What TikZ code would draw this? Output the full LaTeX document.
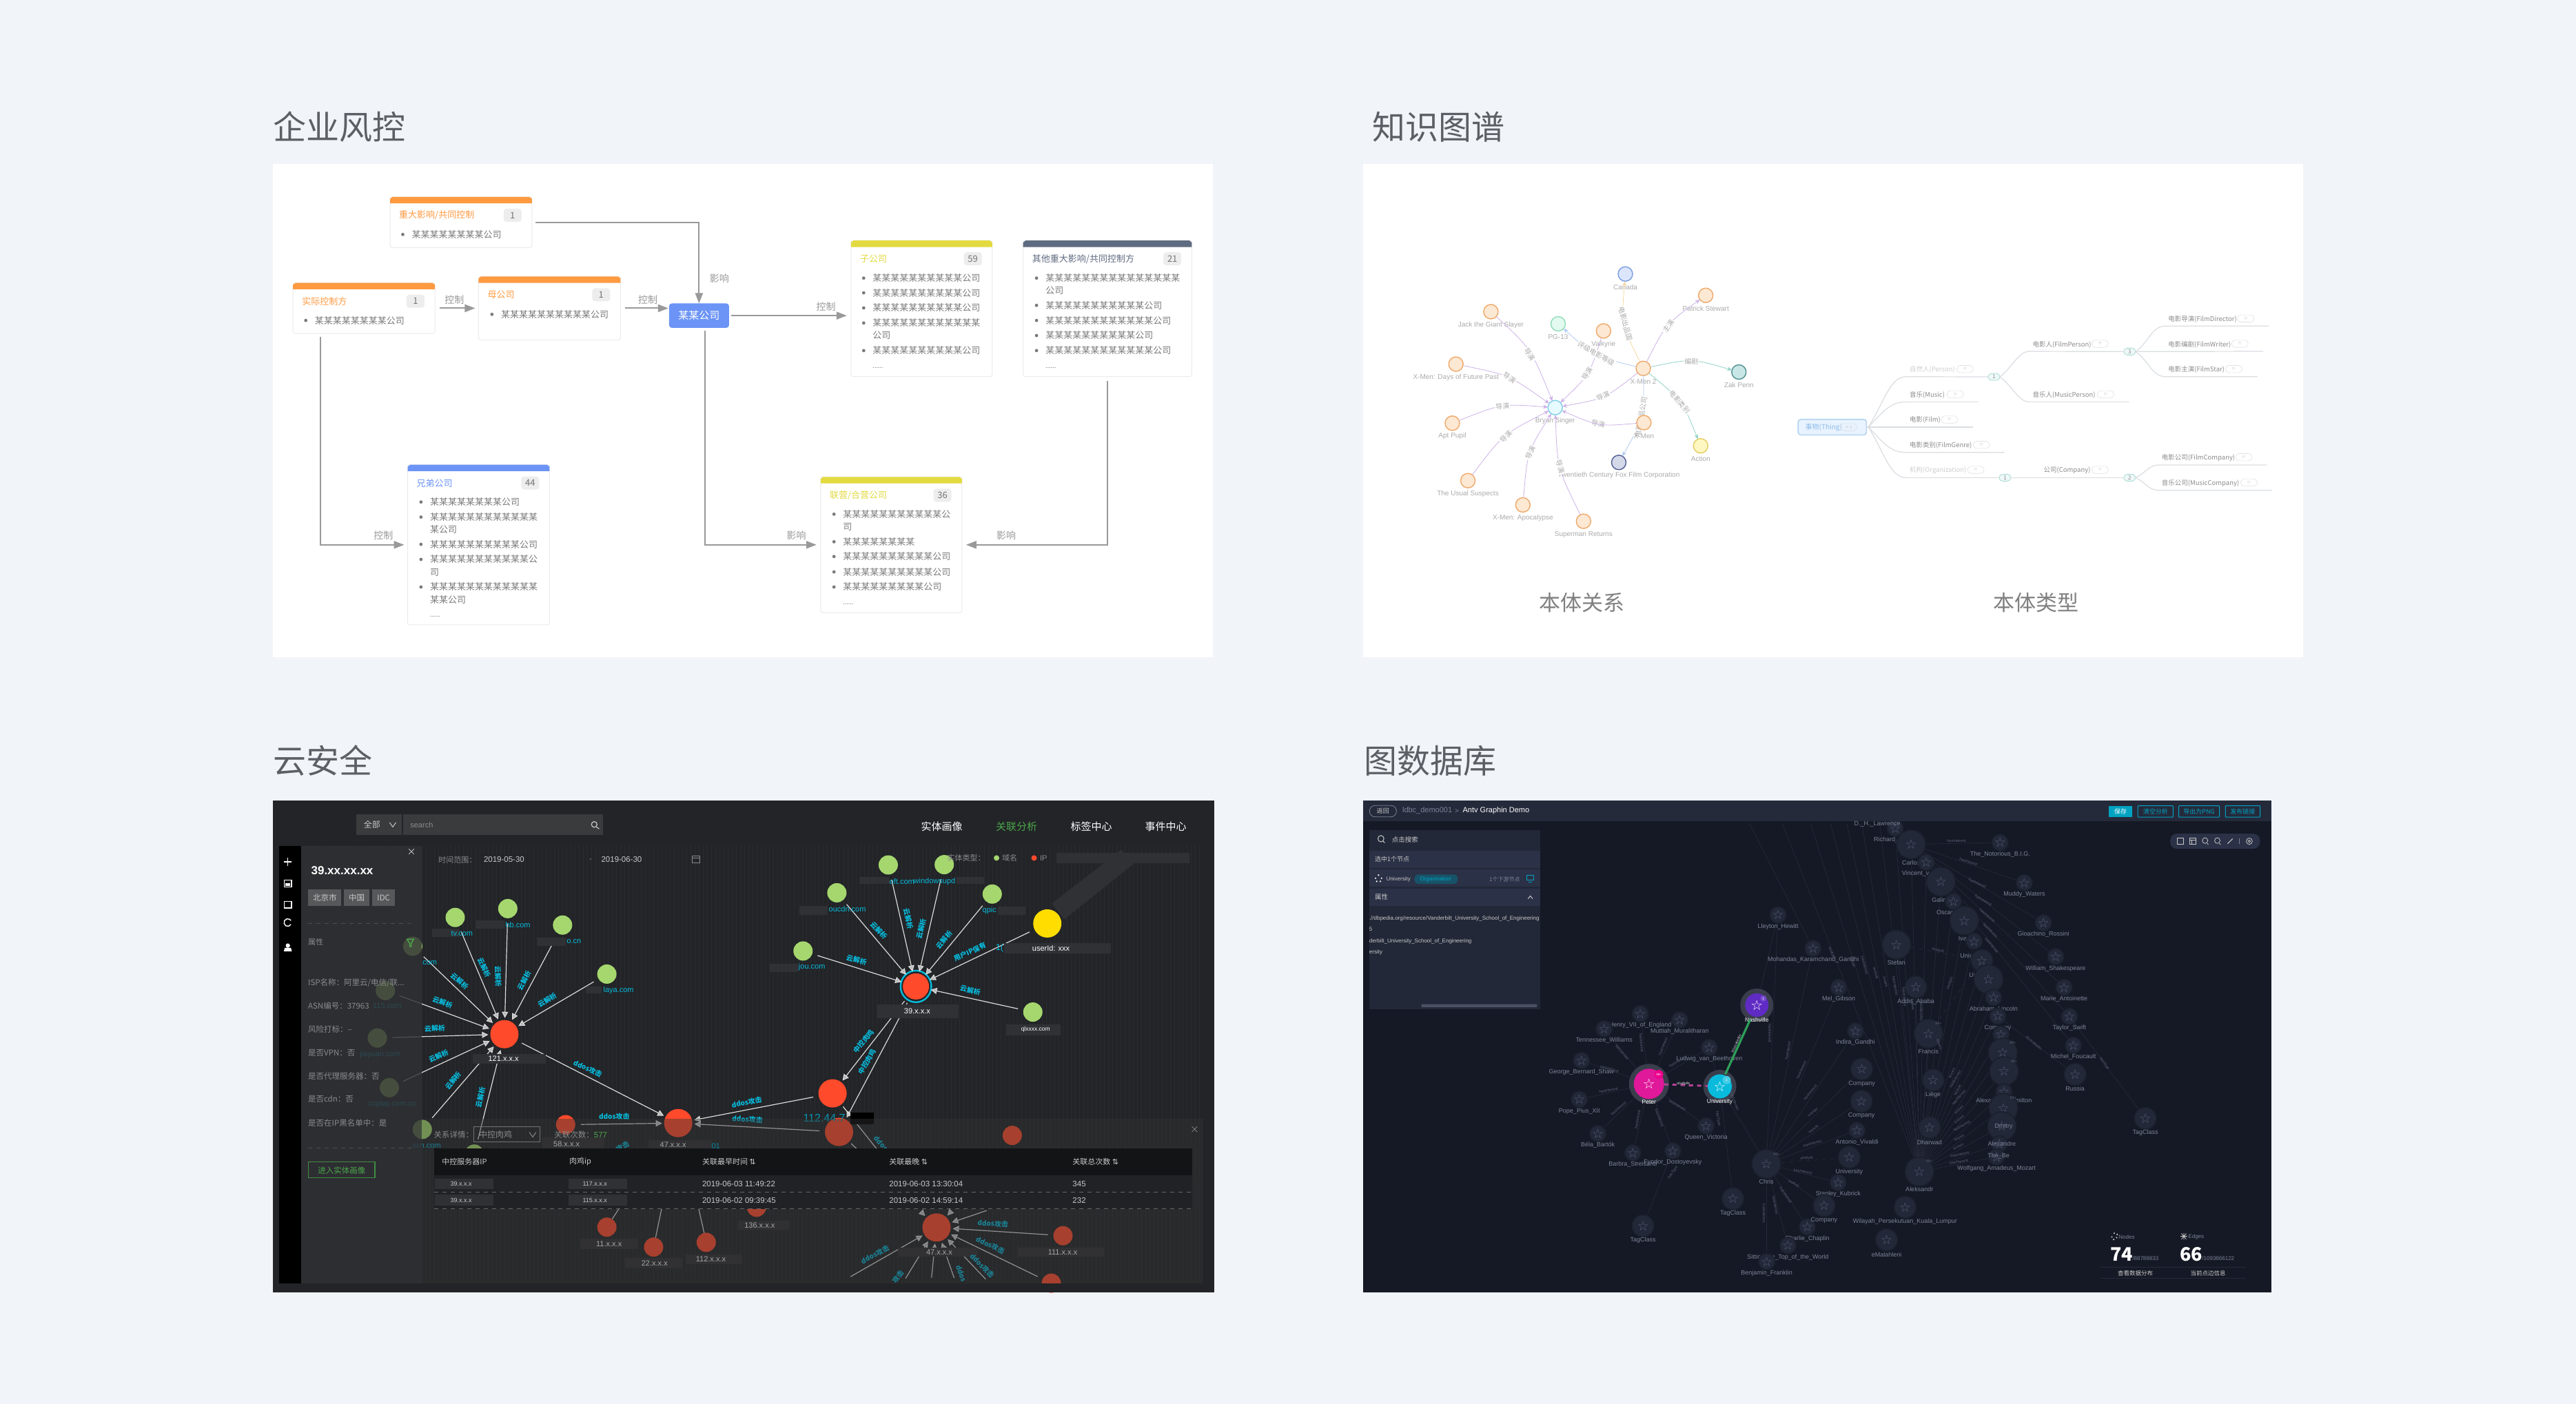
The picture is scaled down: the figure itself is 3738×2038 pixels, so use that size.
\documentclass[tikz,border=0pt]{standalone}
\usepackage{fontspec}
\usetikzlibrary{arrows.meta,fit,calc}
\setmainfont{Noto Sans CJK SC}
\newfontfamily\latf{Liberation Sans}
\newfontfamily\symf{DejaVu Sans}
\pgfdeclarelayer{bglayer}\pgfdeclarelayer{edgelayer}
\pgfsetlayers{bglayer,edgelayer,main}
\newcounter{nn}
\newcommand\pxf[1]{\fontsize{\fpeval{#1*0.5}}{\fpeval{#1*0.6}}\selectfont}
\newcommand\Tt[4][]{\stepcounter{nn}\node[txt,#1] (t\arabic{nn}) at (#2) {\pxf{#3}#4};}
\newcommand\Cd[8]{%
 \node[cardbox,fit={(#2,#3) (#4,#5)}] (#1) {};
 \fill[#6] (#2,{#3+20}) -- (#2,{#3+6}) -- ({#2+4},#3) -- ({#4-4},#3) -- (#4,{#3+6}) -- (#4,{#3+20}) -- cycle;
 \Tt[anchor=west,text=#6]{{#2+15},{#3+57}}{13}{#7}
 \stepcounter{nn}\node[cbadge] (t\arabic{nn}) at ({#4-32},{#3+57}) {\pxf{13}#8};
}
\newcommand\Li[3]{\fill[bodyg] ({#1-15},#2) circle[radius=1.2pt]; \Tt[anchor=west,text=bodyg]{#1,#2}{13}{#3}}
\newcommand\Kn[5]{\node[kn,fill=#3,draw=#4] (#1) at (#2) {}; \Tt[text=kgt,font=\latf]{$(#1)+(0,50)$}{10}{#5}}
\newcommand\Kl[3]{\Tt[rotate=#2,text=kgt,fill=white,inner sep=.5pt]{#1}{10}{#3}}
\newcommand\Tl[4][kgd]{\Tt[anchor=west,text=#1]{#2}{9.5}{#3}\stepcounter{nn}\node[tbadge] (t\arabic{nn}) at (#4) {\pxf{6}≡};}
\newcommand\Tm[3]{\node[tmark] (#1) at (#2) {\pxf{8}#3};}
\newcommand\Dn[4]{\node[dn,fill=#4,minimum size=#3] (#1) at (#2) {};}
\newcommand\Dbx[2]{\fill[lblbox] (#1) rectangle (#2);}
\newcommand\El[3]{\Tt[rotate=#2,text=cyanl,font=\bfseries]{#1}{10}{#3}}
\newcommand\Wl[2]{\Tt[text=white,font=\latf]{#1}{11}{#2}}
\newcommand\Cl[2]{\Tt[text=cyanl,font=\latf]{#1}{11}{#2}}
\newcommand\Gn[6]{\node[gn,minimum size=#4] (#1) at (#2,#3) {\symf\pxf{19}☆};
  \Tt[text=glabel,font=\latf]{{#2},{#3+#5}}{9}{#6}}
\newcommand\Gs[4]{\Gn{#1}{#2}{#3}{12pt}{37}{#4}}
\newcommand\Gm[4]{\Gn{#1}{#2}{#3}{16pt}{46}{#4}}
\newcommand\Gl[4]{\Gn{#1}{#2}{#3}{21pt}{57}{#4}}
\newcommand\Hl[3]{\Tt[rotate=#2,text=gedgel,font=\latf]{#1}{5.5}{#3}}
\definecolor{pagebg}{HTML}{F1F4F8}
\definecolor{titleg}{HTML}{5C6066}
\definecolor{bodyg}{HTML}{7A7A7A}
\definecolor{orangec}{HTML}{FF9A41}
\definecolor{yellowc}{HTML}{E2DA40}
\definecolor{bluec}{HTML}{6C94F6}
\definecolor{slatec}{HTML}{5F6B80}
\definecolor{kgt}{HTML}{ABABAB}
\definecolor{kgd}{HTML}{8C8C8C}
\definecolor{kgl}{HTML}{CFCFCF}
\definecolor{kgo}{HTML}{FDE8D3}
\definecolor{kgod}{HTML}{EFA868}
\definecolor{kcy}{HTML}{E6FBFF}
\definecolor{kcyd}{HTML}{7DCFEA}
\definecolor{kbl}{HTML}{DBE6FD}
\definecolor{kbld}{HTML}{7B9CE0}
\definecolor{kgr}{HTML}{E3FAF0}
\definecolor{kgrd}{HTML}{8FDCB8}
\definecolor{kte}{HTML}{C9E6E6}
\definecolor{kted}{HTML}{4F8F8F}
\definecolor{kye}{HTML}{FFF7C2}
\definecolor{kyed}{HTML}{E6CC5C}
\definecolor{kna}{HTML}{D4D9EA}
\definecolor{knad}{HTML}{4F5C8F}
\definecolor{kpur}{HTML}{CDB2E8}
\definecolor{ktea}{HTML}{90D2C8}
\definecolor{kblu}{HTML}{AECBF2}
\definecolor{kyel}{HTML}{F5D9A3}
\definecolor{treeg}{HTML}{DADDE1}
\definecolor{thingf}{HTML}{E8F3FF}
\definecolor{thingd}{HTML}{B5D3F2}
\definecolor{thingt}{HTML}{8FBCE8}
\definecolor{dbg}{HTML}{222427}
\definecolor{dgrid}{HTML}{292B2F}
\definecolor{dbox}{HTML}{3A3B3D}
\definecolor{lblboxc}{HTML}{303134}
\definecolor{cyanl}{HTML}{08BBDD}
\definecolor{redn}{HTML}{FF4A2B}
\definecolor{greenn}{HTML}{A5D76E}
\definecolor{yelln}{HTML}{FFDD00}
\definecolor{lightt}{HTML}{C8C8C8}
\definecolor{graypt}{HTML}{8A8B8D}
\definecolor{gtxt}{HTML}{4CA64C}
\definecolor{thead}{HTML}{131416}
\definecolor{trow}{HTML}{202225}
\definecolor{gbg}{HTML}{151925}
\definecolor{gbar}{HTML}{252A3B}
\definecolor{gpan}{HTML}{232838}
\definecolor{grw}{HTML}{2B3146}
\definecolor{glabel}{HTML}{7C8397}
\definecolor{gedge}{HTML}{282C3D}
\definecolor{gedgel}{HTML}{5A6076}
\definecolor{gteal}{HTML}{00A3C2}
\definecolor{ghalo}{HTML}{3A3E4C}
\definecolor{gpurple}{HTML}{5F2BC4}
\definecolor{gpink}{HTML}{E0189A}
\definecolor{ggreen}{HTML}{2E9E5A}
\definecolor{gpinkd}{HTML}{B8439A}
\tikzset{
 txt/.style={inner sep=0pt,outer sep=0pt},
 cardbox/.style={inner sep=0pt,outer sep=0pt,draw=black!8,fill=white,rounded corners=1.5pt,line width=.5pt},
 cbadge/.style={inner sep=0pt,outer sep=0pt,fill=black!7,rounded corners=2pt,text=black!55,minimum width=13pt,minimum height=9.5pt},
 arr/.style={draw=black!40,line width=1pt,-{Triangle[length=7.5pt,width=5.5pt]}},
 kn/.style={circle,inner sep=0pt,outer sep=0pt,minimum size=10.5pt,line width=.7pt},
 ke/.style={line width=.4pt,-{Stealth[length=3.5pt,width=3pt]}},
 tline/.style={draw=treeg,line width=.6pt},
 tbadge/.style={inner sep=0pt,outer sep=0pt,draw=black!12,text=black!20,rounded corners=2.5pt,minimum width=12pt,minimum height=5.2pt,line width=.3pt},
 tmark/.style={inner sep=0pt,outer sep=0pt,draw=ktea!80,fill=ktea!15,text=kgd,rounded corners=2.5pt,minimum width=8.5pt,minimum height=5pt,line width=.4pt},
 dn/.style={circle,inner sep=0pt,outer sep=0pt},
 lblbox/.style={fill=lblboxc},
 de/.style={draw=black!14,line width=.6pt,shorten <=4pt,shorten >=1.5pt,-{Triangle[length=4.5pt,width=4.5pt,fill=black!28]}},
 dp/.style={draw=black!14,line width=.6pt},
 gn/.style={circle,inner sep=0pt,outer sep=0pt,fill=gpan,draw=black!22!gpan,line width=.8pt,text=glabel!130},
 ge/.style={draw=gedge,line width=.3pt},
 halo/.style={circle,fill=ghalo,inner sep=0pt,outer sep=0pt},
 gbtn/.style={draw=gteal,line width=.5pt,rounded corners=.5pt},
 z1/.style={shift={(390,230)},x=.44pt,y=-.2328pt},
 z2/.style={shift={(1980,330)},x=.2168pt,y=-.1913pt},
 z3/.style={shift={(2580,400)},x=.236pt,y=-.1667pt},
 z4/.style={shift={(390,1160)},x=.2232pt,y=-.2296pt},
 z5/.style={shift={(1080,1160)},x=.2232pt,y=-.2296pt},
 z6/.style={shift={(1970,1160)},x=.2168pt,y=-.2296pt},
 z7/.style={shift={(2630,1160)},x=.2168pt,y=-.2296pt},
}
\begin{document}
\begin{tikzpicture}[x=.5pt,y=-.5pt]
\path[use as bounding box] (0,0) rectangle (3738,2038);
\begin{pgfonlayer}{bglayer}
\fill[pagebg] (0,0) rectangle (3738,2038);
\fill[gbg] (1978,1162) rectangle (3296,1876);
\end{pgfonlayer}
\Tt[anchor=west,text=titleg]{396,184}{48}{企业风控}
\Tt[anchor=west,text=titleg]{1991,184}{48}{知识图谱}
\Tt[anchor=west,text=titleg]{396,1104}{48}{云安全}
\Tt[anchor=west,text=titleg]{1979,1104}{48}{图数据库}
\fill[white] (396,238) rectangle (1760,954);
\fill[white] (1978,238) rectangle (3342,954);
% ===== panel 1
\begin{scope}[z1]
\Cd{cA}{200}{120}{434}{278}{orangec}{重大影响/共同控制}{1}
\Li{236}{237}{某某某某某某某某公司}
\Cd{cB}{40}{388}{274}{546}{orangec}{实际控制方}{1}
\Li{76}{505}{某某某某某某某某公司}
\Cd{cC}{346}{368}{580}{566}{orangec}{母公司}{1}
\Li{383}{486}{某某某某某某某某某某公司}
\Cd{cD}{960}{256}{1193}{680}{yellowc}{子公司}{59}
\Li{996}{373}{某某某某某某某某某某公司}
\Li{996}{419}{某某某某某某某某某某公司}
\Li{996}{466}{某某某某某某某某某某公司}
\Li{996}{513}{某某某某某某某某某某某某}
\Tt[anchor=west,text=bodyg]{996,552}{13}{公司}
\Li{996}{599}{某某某某某某某某某某公司}
\Tt[anchor=west,text=bodyg]{996,652}{9}{......}
\Cd{cE}{1244}{256}{1522}{680}{slatec}{其他重大影响/共同控制方}{21}
\Li{1281}{373}{某某某某某某某某某某某某某某某}
\Tt[anchor=west,text=bodyg]{1281,411}{13}{公司}
\Li{1281}{458}{某某某某某某某某某某某公司}
\Li{1281}{505}{某某某某某某某某某某某某公司}
\Li{1281}{552}{某某某某某某某某某某公司}
\Li{1281}{599}{某某某某某某某某某某某某公司}
\Tt[anchor=west,text=bodyg]{1281,652}{9}{......}
\Cd{cG}{229}{955}{463}{1454}{bluec}{兄弟公司}{44}
\Li{266}{1071}{某某某某某某某某公司}
\Li{266}{1118}{某某某某某某某某某某某某}
\Tt[anchor=west,text=bodyg]{266,1157}{13}{某公司}
\Li{266}{1203}{某某某某某某某某某某公司}
\Li{266}{1250}{某某某某某某某某某某某公}
\Tt[anchor=west,text=bodyg]{266,1290}{13}{司}
\Li{266}{1336}{某某某某某某某某某某某某}
\Tt[anchor=west,text=bodyg]{266,1375}{13}{某某公司}
\Tt[anchor=west,text=bodyg]{266,1428}{9}{......}
\Cd{cH}{910}{993}{1143}{1416}{yellowc}{联营/合营公司}{36}
\Li{947}{1109}{某某某某某某某某某某某公}
\Tt[anchor=west,text=bodyg]{947,1148}{13}{司}
\Li{947}{1195}{某某某某某某某某}
\Li{947}{1241}{某某某某某某某某某某公司}
\Li{947}{1289}{某某某某某某某某某某公司}
\Li{947}{1336}{某某某某某某某某某公司}
\Tt[anchor=west,text=bodyg]{947,1390}{9}{......}
\node[fill=bluec,inner sep=0pt,outer sep=0pt,rounded corners=2pt,fit={(660,452) (759,528)}] (cF) {};
\Tt[text=white]{cF.center}{15}{某某公司}
\draw[arr,shorten <=2.5pt] (cA.east) -| (cF.north);
\draw[arr,shorten <=3.5pt,shorten >=2.5pt] (cB.east) -- (cC.west);
\draw[arr,shorten <=3.5pt,shorten >=.5pt] (cC.east) -- (cC.east -| cF.west);
\draw[arr,shorten <=1.5pt,shorten >=3pt] (cF.east) -- (cF.east -| cD.west);
\draw[arr,shorten <=2pt,shorten >=3pt] ([xshift=4.2pt]cF.south) |- (cH.west);
\draw[arr,shorten <=3pt,shorten >=3pt] (cE.south) |- (cH.east);
\draw[arr,shorten <=2.3pt,shorten >=2.5pt] ([xshift=-31.7pt]cB.south) |- (cG.west);
\foreach \xa/\ya/\s in {306/440/控制,625/440/控制,743/374/影响,919/462/控制,189/1176/控制,870/1176/影响,1216/1176/影响}{\Tt[text=black!40]{\xa,\ya}{14}{\s}}
\end{scope}
% ===== panel 2
\begin{scope}[z2]
\Kn{can}{873,177}{kbl}{kbld}{Canada}
\Kn{pat}{1142,258}{kgo}{kgod}{Patrick Stewart}
\Kn{pg}{648,366}{kgr}{kgrd}{PG-13}
\Kn{val}{800,393}{kgo}{kgod}{Valkyrie}
\Kn{jack}{423,320}{kgo}{kgod}{Jack the Giant Slayer}
\Kn{xm2}{933,535}{kgo}{kgod}{X-Men 2}
\Kn{zak}{1253,549}{kte}{kted}{Zak Penn}
\Kn{dofp}{306,519}{kgo}{kgod}{X-Men: Days of Future Past}
\Kn{bry}{638,684}{kcy}{kcyd}{Bryan Singer}
\Kn{apt}{294,743}{kgo}{kgod}{Apt Pupil}
\Kn{act}{1125,829}{kye}{kyed}{Action}
\Kn{fox}{851,892}{kna}{knad}{Twentieth Century Fox Film Corporation}
\Kn{usu}{346,961}{kgo}{kgod}{The Usual Suspects}
\Kn{apo}{530,1053}{kgo}{kgod}{X-Men: Apocalypse}
\Kn{sup}{733,1115}{kgo}{kgod}{Superman Returns}
\draw[ke,draw=kpur] (jack) .. controls (557,460) .. (bry);
\draw[ke,draw=kpur] (dofp) .. controls (483,560) .. (bry);
\draw[ke,draw=kpur] (apt) .. controls (458,669) .. (bry);
\draw[ke,draw=kpur] (usu) .. controls (463,785) .. (bry);
\draw[ke,draw=kpur] (apo) .. controls (545,851) .. (bry);
\draw[ke,draw=kpur] (sup) .. controls (645,913) .. (bry);
\draw[ke,draw=kpur] (val) .. controls (753,560) .. (bry);
\draw[ke,draw=kpur] (xm2) .. controls (805,650) .. (bry);
\draw[ke,draw=kyel] (xm2) .. controls (859,368) .. (can);
\draw[ke,draw=kpur] (xm2) .. controls (1008,368) .. (pat);
\draw[ke,draw=kblu] (xm2) .. controls (770,490) .. (pg);
\draw[ke,draw=ktea] (xm2) .. controls (1096,497) .. (zak);
\draw[ke,draw=ktea] (xm2) .. controls (1064,659) .. (act);
\draw[ke,draw=kblu] (xm2) .. controls (936,722) .. (fox);
\Kl{553,483}{-56}{导演}
\Kl{485,570}{-35}{导演}
\Kl{462,680}{5}{导演}
\Kl{473,795}{45}{导演}
\Kl{555,855}{65}{导演}
\Kl{655,908}{-75}{导演}
\Kl{745,555}{60}{导演}
\Kl{798,640}{25}{导演}
\Kl{782,745}{-15}{导演}
\Kl{873,365}{-75}{电影出品国}
\Kl{1017,375}{55}{主演}
\Kl{775,480}{-30}{评级电影等级}
\Kl{1094,508}{0}{编剧}
\Kl{1055,662}{-50}{电影类别}
\Kl{925,720}{80}{电影出品公司}
\Kn{xm}{935,741}{kgo}{kgod}{X-Men}
\draw[ke,draw=kpur] (xm) .. controls (784,756) .. (bry);
\Tt[text=black!50]{728,1425}{31}{本体关系}
\end{scope}
\Tt[text=black!50]{2954,875}{31}{本体类型}
% ===== panel 2 right: tree
\begin{scope}[z3]
\node[draw=thingd,fill=thingf,line width=.8pt,rounded corners=2pt,inner sep=0pt,outer sep=0pt,fit={(62,626) (272,694)}] (thing) {};
\Tt[anchor=west,text=thingt]{84,662}{10}{事物(Thing)}
\stepcounter{nn}\node[tbadge] (t\arabic{nn}) at (217,660) {\pxf{6}≡ 3};
\coordinate (rt) at (278,660);
\draw[tline] (thing.east) -- (rt);
\Tm{m1}{664,441}{1}
\Tm{m2}{698,880}{1}
\Tm{m3}{1081,331}{3}
\Tm{m4}{1081,880}{2}
\draw[tline] (rt) .. controls (330,540) and (345,440) .. (395,440) -- (m1.west);
\draw[tline] (rt) .. controls (325,590) and (345,550) .. (395,550) -- (617,550);
\draw[tline] (rt) -- (600,660);
\draw[tline] (rt) .. controls (325,730) and (345,770) .. (395,770) -- (696,770);
\draw[tline] (rt) .. controls (330,780) and (345,880) .. (395,880) -- (m2.west);
\draw[tline] (m1.east) .. controls (720,400) and (740,330) .. (772,330) -- (m3.west);
\draw[tline] (m1.east) .. controls (720,480) and (740,550) .. (772,550) -- (1079,550);
\draw[tline] (m3.east) .. controls (1140,290) and (1150,220) .. (1190,220) -- (1510,220);
\draw[tline] (m3.east) -- (1492,330);
\draw[tline] (m3.east) .. controls (1140,370) and (1150,440) .. (1190,440) -- (1474,440);
\draw[tline] (m2.east) -- (m4.west);
\draw[tline] (m4.east) .. controls (1130,860) and (1140,825) .. (1170,825) -- (1503,825);
\draw[tline] (m4.east) .. controls (1130,900) and (1140,935) .. (1170,935) -- (1519,935);
\Tl[kgl]{405,410}{自然人(Person)}{575,407}
\Tl{405,519}{音乐(Music)}{545,517}
\Tl{405,628}{电影(Film)}{527,627}
\Tl{405,739}{电影类别(FilmGenre)}{625,737}
\Tl[kgl]{405,849}{机构(Organization)}{608,846}
\Tl{783,300}{电影人(FilmPerson)}{990,297}
\Tl{783,519}{音乐人(MusicPerson)}{1007,517}
\Tl{1200,190}{电影导演(FilmDirector)}{1438,187}
\Tl{1200,300}{电影编剧(FilmWriter)}{1420,297}
\Tl{1200,409}{电影主演(FilmStar)}{1401,407}
\Tl{817,849}{公司(Company)}{990,846}
\Tl{1180,794}{电影公司(FilmCompany)}{1432,791}
\Tl{1180,904}{音乐公司(MusicCompany)}{1448,901}
\end{scope}
% ===== panel 3
\fill[dbg] (396,1162) rectangle (1762,1876);
\draw[dgrid,line width=.3pt,step=6] (437,1227) grid (1746,1863);
\begin{scope}[z5]
\fill[lblboxc] (1000,330) -- (1225,160) -- (1265,205) -- (1040,380) -- cycle;
\fill[lblboxc] (1015,170) rectangle (1448,202);
\end{scope}
\begin{scope}[z4]
\Dn{r121}{766,743}{20.5pt}{redn}
\Dn{r47}{1331,1024}{20.5pt}{redn}
\Dn{r58}{965,1029}{14pt}{redn}
\Dn{g1}{606,374}{14pt}{greenn}
\Dn{g2}{777,346}{14pt}{greenn}
\Dn{g3}{955,398}{14pt}{greenn}
\Dn{g4}{1099,553}{14pt}{greenn}
\Dn{g5}{468,465}{14pt}{greenn}
\Dn{g6}{379,605}{14pt}{greenn}
\Dn{g7}{353,755}{14pt}{greenn}
\Dn{g8}{392,912}{14pt}{greenn}
\Dn{g9}{499,1044}{14pt}{greenn}
\Dn{g10}{668,1122}{14pt}{greenn}
\Dn{r11}{1099,1353}{14pt}{redn}
\Dn{r22}{1251,1416}{14pt}{redn}
\Dn{r112c}{1422,1401}{14pt}{redn}
\foreach \n in {g1,g2,g3,g4,g5,g6,g7,g8,g9,g10}{\draw[de] (\n) -- (r121);}
\draw[de] (r121) -- (r47);
\draw[de] (r58) -- (r47);
\coordinate (st1) at (1175,1240); \coordinate (st2) at (1295,1210); \coordinate (st3) at (1385,1240);
\draw[dp] (r11) -- (st1); \draw[dp] (r22) -- (st2); \draw[dp] (r112c) -- (st3);
\Dbx{530,410}{620,436}
\Dbx{672,384}{765,410}
\Dbx{871,437}{965,463}
\Dbx{1030,592}{1083,615}
\Dbx{662,805}{900,836}
\Dbx{888,1070}{1090,1105}
\Dbx{1235,1078}{1440,1105}
\Dbx{1012,1390}{1200,1423}
\Dbx{1158,1450}{1345,1483}
\Dbx{1355,1440}{1540,1470}
\Cl{628,425}{tv.com}
\Cl{810,397}{hb.com}
\Cl{992,450}{o.cn}
\Cl{1137,605}{laya.com}
\Cl{520,518}{.com}
\Cl{385,652}{115.com}
\Cl{362,808}{jiayuan.com}
\Cl{402,965}{ccplay.com.cn}
\Cl{510,1096}{.scn.com}
\Wl{763,821}{121.x.x.x}
\Wl{968,1090}{58.x.x.x}
\Wl{1314,1092}{47.x.x.x}
\Wl{1106,1407}{11.x.x.x}
\Wl{1254,1467}{22.x.x.x}
\Wl{1437,1455}{112.x.x.x}
\El{700,532}{-65}{云解析}
\El{745,560}{-88}{云解析}
\El{830,573}{62}{云解析}
\El{905,635}{32}{云解析}
\El{620,575}{-40}{云解析}
\El{565,642}{-20}{云解析}
\El{540,725}{2}{云解析}
\El{552,812}{25}{云解析}
\El{600,890}{50}{云解析}
\El{688,942}{78}{云解析}
\El{1037,852}{-25}{ddos攻击}
\El{1123,1003}{0}{ddos攻击}
\Tt[text=cyanl,font=\bfseries,rotate=30]{1150,1098}{10}{攻击}
\end{scope}
\begin{scope}[z5]
\Dn{r39}{558,592}{19pt}{redn}
\draw[cyanl,line width=1.2pt] (r39) circle[x radius=50,y radius=50];
\Dn{z1}{191,480}{14pt}{greenn}
\Dn{z2}{301,296}{14pt}{greenn}
\Dn{z3}{468,208}{14pt}{greenn}
\Dn{z4}{650,207}{14pt}{greenn}
\Dn{z5}{806,300}{14pt}{greenn}
\Dn{z6}{938,673}{14pt}{greenn}
\Dn{yel}{985,393}{20.5pt}{yelln}
\Dn{r112}{287,930}{20.5pt}{redn}
\Dn{r112b}{308,1052}{20.5pt}{redn}
\Dn{rd}{871,1063}{14pt}{redn}
\Dn{r136}{40,1290}{14pt}{redn}
\Dn{r47b}{625,1354}{20.5pt}{redn}
\Dn{r111}{1036,1380}{14pt}{redn}
\Dn{rlo}{998,1530}{14pt}{redn}
\foreach \n in {z1,z2,z3,z4,z5,z6,yel}{\draw[de] (\n) -- (r39);}
\draw[de] (r39) -- (r112);
\draw[de] (r39) -- (r112b);
\draw[de] (r112) -- (r47);
\draw[de] (r112b) -- (r47);
\coordinate (q1) at (430,1105); \coordinate (q2) at (365,1105);
\draw[dp,shorten <=2pt] (r112) -- (q1);
\draw[dp,shorten <=2pt] (r112b) -- (q2);
\coordinate (b1) at (805,1295); \coordinate (b2) at (330,1518); \coordinate (b3) at (515,1530);
\coordinate (b4) at (607,1530); \coordinate (b5) at (688,1530); \coordinate (b6) at (797,1530);
\coordinate (b7) at (565,1295); \coordinate (b8) at (680,1295);
\foreach \n in {b1,b2,b3,b4,b5,b6,b7,b8,r111,rlo}{\draw[de] (\n) -- (r47b);}
\Dbx{82,520}{175,546}
\Dbx{180,338}{270,365}
\Dbx{375,245}{470,268}
\Dbx{690,245}{780,268}
\Dbx{825,340}{915,365}
\Dbx{852,712}{1028,747}
\Dbx{845,455}{1192,487}
\Dbx{433,650}{697,693}
\Dbx{500,1417}{760,1447}
\Dbx{890,1417}{1170,1447}
\Dbx{-20,1332}{145,1360}
\Cl{220,531}{jou.com}
\Cl{335,348}{oucdn.com}
\Tt[anchor=west,text=cyanl,font=\latf]{472,260}{11}{oft.com}
\Tt[anchor=east,text=cyanl,font=\latf]{686,260}{11}{windowsupd}
\Cl{797,353}{qpic}
\Tt[text=white,font=\latf]{947,728}{8.5}{qlxxxx.com}
\Wl{997,472}{userId: xxx}
\Wl{562,671}{39.x.x.x}
\Wl{634,1432}{47.x.x.x}
\Wl{1035,1432}{111.x.x.x}
\Wl{50,1347}{136.x.x.x}
\Tt[text=cyanl,font=\latf]{830,470}{13}{1(}
\El{365,508}{-15}{云解析}
\El{437,415}{-47}{云解析}
\El{533,378}{-77}{云解析}
\El{575,410}{77}{云解析}
\El{650,445}{50}{云解析}
\El{733,483}{25}{用户IP保有}
\El{735,604}{-12}{云解析}
\El{388,765}{50}{中控肉鸡}
\El{400,830}{60}{中控肉鸡}
\El{8,958}{12}{ddos攻击}
\El{10,1012}{-3}{ddos攻击}
\El{445,1088}{-50}{ddos}
\El{808,1342}{-3}{ddos攻击}
\El{800,1410}{-25}{ddos攻击}
\El{425,1440}{28}{ddos攻击}
\El{500,1510}{55}{攻击}
\El{705,1500}{-70}{ddos}
\El{773,1475}{-45}{ddos攻击}
\Tt[text=cyanl!80!black,font=\latf]{260,1007}{16}{112.44.7}
\fill[black] (345,990) rectangle (420,1027);
\Tt[anchor=west,text=graypt]{660,186}{11}{实体类型：}
\fill[greenn] (820,186) circle[radius=2pt];
\Tt[anchor=west,text=graypt]{838,186}{11}{域名}
\fill[redn] (942,186) circle[radius=2pt];
\Tt[anchor=west,text=graypt,font=\latf]{961,186}{11}{IP}
\end{scope}
\begin{scope}[z4]
\fill[black!80!white,opacity=.43] (497,1010) rectangle (3039,1531);
\fill[black] (33,147) rectangle (105,1531);
\fill[lblboxc,opacity=.82] (105,147) rectangle (497,1531);
\fill[dbox] (284,48) rectangle (433,114);
\fill[dbox] (437,48) rectangle (1087,114);
\Tt[text=lightt]{336,81}{12}{全部}
\draw[lightt,line width=.5pt] (393,74) -- (403,88) -- (413,74);
\Tt[anchor=west,text=graypt,font=\latf]{460,81}{11}{search}
\draw[lightt,line width=.6pt] (1058,80) circle[x radius=9,y radius=9];
\draw[lightt,line width=.6pt] (1065,88) -- (1074,94);
\draw[white,line width=.7pt] (49,198) -- (75,198) (62,185) -- (62,211);
\draw[white,line width=.6pt] (50,255) rectangle (74,278);
\fill[white] (54,266) rectangle (70,275);
\draw[white,line width=.6pt] (50,323) rectangle (74,344);
\draw[white,line width=.7pt] (72,396) arc[start angle=30,end angle=330,x radius=12,y radius=12];
\fill[white] (62,463) circle[x radius=7,y radius=7];
\fill[white] (49,481) -- (52,470) -- (72,470) -- (75,481) -- cycle;
\Tt[text=lightt!80]{464,168}{13}{×}
\Tt[anchor=west,text=white,font=\bfseries\latf]{138,225}{17}{39.xx.xx.xx}
\foreach \xa/\xb/\s in {128/236/北京市,245/327/中国,337/410/IDC}{
 \fill[dbox!85!white] (\xa,285) rectangle (\xb,337);
 \Tt[text=lightt]{{(\xa+\xb)/2},311}{11.5}{\s}}
\draw[black!70!white,dashed,line width=.4pt] (128,392) -- (475,392);
\draw[black!70!white,dashed,line width=.4pt] (128,1103) -- (475,1103);
\Tt[anchor=west,text=graypt]{128,452}{11}{属性}
\draw[gtxt,line width=.7pt] (450,443) -- (471,443) -- (463,456) -- (463,466) -- (458,466) -- (458,456) -- cycle;
\Tt[anchor=west,text=graypt]{128,580}{11.5}{ISP名称：阿里云/电信/联...}
\Tt[anchor=west,text=graypt]{128,654}{11.5}{ASN编号：37963}
\Tt[anchor=west,text=graypt]{128,728}{11.5}{风险打标：–}
\Tt[anchor=west,text=graypt]{128,802}{11.5}{是否VPN：否}
\Tt[anchor=west,text=graypt]{128,876}{11.5}{是否代理服务器：否}
\Tt[anchor=west,text=graypt]{128,949}{11.5}{是否cdn：否}
\Tt[anchor=west,text=graypt]{128,1023}{11.5}{是否在IP黑名单中：是}
\draw[gtxt!85!black,line width=.6pt] (128,1147) rectangle (345,1197);
\Tt[text=gtxt]{237,1173}{11.5}{进入实体画像}
\Tt[anchor=west,text=graypt]{552,192}{11}{时间范围：}
\Tt[anchor=west,text=lightt,font=\latf]{699,191}{11.5}{2019-05-30}
\Tt[text=graypt,font=\latf]{1046,193}{11}{-}
\Tt[anchor=west,text=lightt,font=\latf]{1081,191}{11.5}{2019-06-30}
\draw[graypt,line width=.5pt] (1377,180) rectangle (1401,202) (1377,186) -- (1401,186);
\Tt[anchor=west,text=graypt]{537,1061}{11.5}{关系详情：}
\draw[black!55!white,line width=.5pt] (667,1035) rectangle (882,1084);
\Tt[text=graypt]{737,1061}{12}{中控肉鸡}
\draw[graypt,line width=.5pt] (847,1053) -- (858,1068) -- (869,1053);
\Tt[anchor=west,text=graypt]{928,1061}{11.5}{关联次数：}
\Tt[anchor=west,text=gtxt,font=\latf]{1057,1061}{11.5}{577}
\Tt[text=cyanl!75!black,font=\latf]{1453,1097}{11}{01}
\fill[thead] (537,1105) rectangle (3002,1188);
\fill[trow] (537,1188) rectangle (3002,1295);
\draw[black!60!white,dashed,line width=.35pt] (537,1243) -- (3002,1243);
\draw[black!60!white,dashed,line width=.35pt] (537,1295) -- (3002,1295);
\Tt[anchor=west,text=lightt]{563,1146}{11}{中控服务器IP}
\Tt[anchor=west,text=lightt]{977,1146}{11}{肉鸡ip}
\Tt[anchor=west,text=lightt]{1409,1146}{11}{关联最早时间 {\symf ⇅}}
\Tt[anchor=west,text=lightt]{2017,1146}{11}{关联最晚 {\symf ⇅}}
\Tt[anchor=west,text=lightt]{2613,1146}{11}{关联总次数 {\symf ⇅}}
\foreach \ya/\pa/\pb/\pc/\pd/\pe in {1216/39.x.x.x/117.x.x.x/2019-06-03 11:49:22/2019-06-03 13:30:04/345,1268/39.x.x.x/115.x.x.x/2019-06-02 09:39:45/2019-06-02 14:59:14/232}{
 \fill[lblboxc] (540,\ya-17) rectangle (730,\ya+17);
 \fill[lblboxc] (975,\ya-17) rectangle (1165,\ya+17);
 \Tt[text=lightt,font=\latf]{625,\ya}{9}{\pa}
 \Tt[text=lightt,font=\latf]{1060,\ya}{9}{\pb}
 \Tt[anchor=west,text=lightt,font=\latf]{1409,\ya}{11.5}{\pc}
 \Tt[anchor=west,text=lightt,font=\latf]{2017,\ya}{11.5}{\pd}
 \Tt[anchor=west,text=lightt,font=\latf]{2613,\ya}{11.5}{\pe}
}
\end{scope}
\begin{scope}[z5]
\foreach \xa/\s/\cc in {642/实体画像/white,885/关联分析/gtxt,1128/标签中心/white,1370/事件中心/white}{\Tt[text=\cc]{\xa,87}{15}{\s}}
\Tt[text=graypt]{1464,1045}{13}{×}
\end{scope}
\fill[dbg] (396,1863) rectangle (1762,1876);
\fill[dbg] (1746,1227) rectangle (1762,1863);
% ===== panel 4
\begin{scope}[z6]
\Gs{lley}{1407}{366}{Lleyton\_Hewitt}
\node[gn,minimum size=12pt] (moha) at (1524,472) {\symf\pxf{19}☆};
\Tt[text=glabel,font=\latf]{1525,508}{9}{Mohandas\_Karamchand\_Gandhi}
\node[halo,minimum size=24pt] (nashh) at (1336,651) {};
\node[halo,minimum size=29pt] (peterh) at (975,900) {};
\node[halo,minimum size=24pt] (univh) at (1212,908) {};
\node[circle,fill=gpurple,inner sep=0pt,outer sep=0pt,minimum size=17pt,text=white] (nash) at (1336,651) {\symf\pxf{20}☆};
\node[circle,fill=gpink,inner sep=0pt,outer sep=0pt,minimum size=22pt,text=white] (peter) at (975,900) {\symf\pxf{20}☆};
\node[circle,fill=cyanl,inner sep=0pt,outer sep=0pt,minimum size=17.5pt,text=white] (univ) at (1212,908) {\symf\pxf{20}☆};
\Tt[text=white,font=\latf]{1336,698}{8.5}{Nashville}
\Tt[text=white,font=\latf]{975,958}{8.5}{Peter}
\Tt[text=white,font=\latf]{1212,957}{8.5}{University}
\node[circle,fill=magenta,inner sep=0pt,outer sep=0pt,minimum size=6.5pt,text=white] (pb) at (1008,870) {\latf\pxf{4.5}99+};
\node[circle,fill=cyanl!75!white,inner sep=0pt,outer sep=0pt,minimum size=6pt,text=white] (ub) at (1235,888) {\latf\pxf{5}1};
\node[circle,fill=gpurple!85!white,inner sep=0pt,outer sep=0pt,minimum size=4.5pt,text=white] (nb) at (1358,630) {\latf\pxf{5}1};
\Gs{henry}{946}{678}{Henry\_VII\_of\_England}
\Gs{mutt}{1078}{698}{Muttiah\_Muralitharan}
\Gs{tenn}{825}{726}{Tennessee\_Williams}
\Gs{ludw}{1177}{785}{Ludwig\_van\_Beethoven}
\Gs{georg}{749}{826}{George\_Bernard\_Shaw}
\Gs{pope}{742}{949}{Pope\_Pius\_XII}
\Gs{bela}{804}{1057}{Béla\_Bartók}
\Gs{barb}{921}{1118}{Barbra\_Streisand}
\Gs{fyod}{1055}{1112}{Fyodor\_Dostoyevsky}
\Gs{queen}{1166}{1033}{Queen\_Victoria}
\Gm{tag1}{1256}{1263}{TagClass}
\Gm{tag2}{955}{1349}{TagClass}
\Gl{chris}{1368}{1153}{Chris}
\Gs{charl}{1505}{1352}{Charlie\_Chaplin}
\Gs{sitt}{1440}{1411}{Sitting\_on\_Top\_of\_the\_World}
\Gs{benj}{1369}{1462}{Benjamin\_Franklin}
\Tt[text=gedgel,font=\latf]{1402,1122}{5.5}{99+}
\end{scope}
\begin{scope}[z7]
\Gs{rich}{277}{92}{}
\Tt[text=glabel,font=\latf]{247,128}{9}{Richard\_}
\Gs{notor}{628}{137}{The\_Notorious\_B.I.G.}
\Gs{muddy}{709}{264}{Muddy\_Waters}
\Gs{gioa}{773}{391}{Gioachino\_Rossini}
\Gs{will}{814}{498}{William\_Shakespeare}
\Gs{marie}{842}{595}{Marie\_Antoinette}
\Gs{taylor}{860}{687}{Taylor\_Swift}
\Gs{michel}{873}{778}{Michel\_Foucault}
\Gm{russia}{879}{870}{Russia}
\Gm{tag3}{1114}{1009}{TagClass}
\Gl{carlos}{330}{143}{Carlos}
\Gs{vinc}{381}{200}{}
\Tt[text=glabel,font=\latf]{345,236}{9}{Vincent\_v}
\Gl{galina}{430}{261}{Galina}
\Gs{oscar}{472}{323}{}
\Tt[text=glabel,font=\latf]{443,358}{9}{Oscar}
\Gl{ivan}{508}{384}{Ivan}
\Gs{nA}{541}{449}{}
\Tt[text=glabel,font=\latf]{515,496}{9}{Univ}
\Gm{nB}{567}{510}{}
\Tt[text=glabel,font=\latf]{535,556}{9}{Ur}
\Gl{nC}{589}{569}{}
\Tt[text=glabel,font=\latf]{590,625}{9}{K}
\Gs{abra}{606}{627}{Abraham\_Lincoln}
\Gs{nD}{620}{686}{Company}
\Gs{nE}{631}{743}{}
\Gl{nF}{637}{801}{}
\Gl{nG}{641}{860}{Rafal}
\Gs{nH}{641}{925}{}
\Tt[text=glabel,font=\latf]{641,954}{9}{Alexander\_Hamilton}
\Gl{nI}{639}{976}{}
\Gl{nJ}{634}{1034}{}
\Tt[text=glabel,font=\latf]{640,1034}{9}{Dmitry}
\Gs{nK}{625}{1090}{}
\Tt[text=glabel,font=\latf]{634,1090}{9}{Alexandre}
\Gs{nL}{616}{1131}{Wolfgang\_Amadeus\_Mozart}
\Tt[text=glabel,font=\latf]{623,1128}{9}{The\_Be}
\Gl{stefan}{281}{460}{Stefan}
\Gm{addis}{346}{594}{Addis\_Ababa}
\Gs{melg}{88}{595}{Mel\_Gibson}
\Gs{indi}{144}{733}{Indira\_Gandhi}
\Gm{comA}{165}{853}{Company}
\Gm{comB}{164}{955}{Company}
\Gs{anto}{149}{1047}{Antonio\_Vivaldi}
\Gm{univB}{123}{1132}{University}
\Gl{fran}{388}{741}{Francis}
\Gm{liege}{404}{888}{Liège}
\Gm{dharw}{392}{1038}{Dharwad}
\Gl{aleks}{358}{1177}{Aleksandr}
\Gm{wila}{310}{1290}{Wilayah\_Persekutuan\_Kuala\_Lumpur}
\Gm{emal}{248}{1393}{eMalahleni}
\Gs{stan}{86}{1212}{Stanley\_Kubrick}
\Gm{comC}{39}{1285}{Company}
\Tt[text=gedgel,font=\latf]{422,709}{5.5}{99+}
\Tt[text=gedgel,font=\latf]{391,1145}{5.5}{99+}
\Tt[text=gedgel,font=\latf]{671,770}{5.5}{99+}
\Tt[text=gedgel,font=\latf]{675,829}{5.5}{99+}
\Tt[text=gedgel,font=\latf]{672,945}{5.5}{99+}
\end{scope}
\begin{pgfonlayer}{edgelayer}
\begin{scope}[z7]
\foreach \cx [count=\i] in {-102,-7,60,115,165,225}{\coordinate (tp\i) at (\cx,75); \draw[ge] (tp\i) -- (aleks);}
\foreach \n in {carlos,vinc,galina,oscar,ivan,nA,nB,nC,abra,nD,nE,nF,nG,nH,nI,nJ,nK,nL,fran,liege,dharw,addis,stefan,rich}{\draw[ge] (\n) -- (aleks);}
\foreach \n in {notor,muddy,gioa,will,marie,taylor,michel}{\draw[ge] (carlos) -- (\n);}
\draw[ge] (nD) -- (russia);
\draw[ge] (taylor) -- (tag3);
\draw[ge,dashed] (stefan) -- (nB);
\draw[ge,dashed] (nB) -- (fran);
\foreach \n in {lley,moha,melg,indi,comA,comB,anto,stan,comC,charl,sitt,benj,univ}{\draw[ge] (chris) -- (\n);}
\draw[ge,dashed] (chris) -- (univB);
\end{scope}
\begin{scope}[z6]
\coordinate (tq1) at (1310,75);
\draw[ge] (tq1) -- (moha);
\foreach \n in {henry,tenn,mutt,ludw,georg,pope,bela,barb,fyod,queen}{\draw[ge] (peter) -- (\n);}
\draw[ge] (fyod) -- (tag2);
\draw[ge] (univ) -- (tag1);
\draw[ge] (univ) -- (ludw);
\draw[ge] (lley) -- (nash);
\end{scope}
\end{pgfonlayer}
\begin{scope}[z6]
\draw[ggreen,line width=1.6pt,shorten >=3pt,shorten <=1pt] (univ) -- (nash);
\draw[gpinkd,line width=1.4pt,dashed] (peter) -- (univ);
\Tt[rotate=65,text=black!15,font=\latf]{1267,773}{5.5}{isLocatedIn}
\Tt[text=black!10,font=\latf]{1090,900}{5.5}{studyAt}
\foreach \xa/\ya/\r/\s in {950/770/-85/hasInterest,885/800/-50/hasInterest,1022/782/68/hasInterest,1070/830/30/hasInterest,843/853/-15/hasInterest,840/920/10/hasInterest,873/978/40/hasInterest,937/1012/80/hasInterest,1010/1008/-70/hasInterest,1070/968/-30/hasInterest,1207/1010/-80/hasType,1055/1180/55/hasType,1262/955/-70/hasInterest,1380/740/-90/hasInterest,1440/795/80/hasInterest,1485/856/65/hasInterest,1515/927/50/hasInterest,1523/990/40/workAt,1525/1043/35/workAt,1522/1088/15/hasInterest,1503/1135/3/studyAt,1490/1177/-10/hasInterest,1460/1215/-30/workAt,1433/1252/-55/hasInterest,1398/1283/-80/hasInterest,1360/1310/-90/hasInterest}{\Hl{\xa,\ya}{\r}{\s}}
\end{scope}
\begin{scope}[z7]
\foreach \xa/\ya/\r/\s in {482/132/0/hasInterest,522/198/-18/hasInterest,552/265/-25/hasInterest,572/320/-30/hasInterest,585/368/-40/hasInterest,595/415/-45/hasInterest,600/462/-50/hasInterest,741/770/-40/isLocatedIn,977/836/-55/hasType,466/866/65/knows,478/885/60/hasInterest,485/920/60/workAt,490/943/50/hasInterest,490/982/45/knows,491/1012/40/knows,500/1033/30/hasInterest,491/1070/30/knows,488/1098/25/knows,493/1123/12/hasInterest,490/1146/8/hasInterest,65/485/-70/workAt,135/515/-70/knows,175/525/-75/hasInterest,212/550/-75/workAt,245/578/-75/knows,277/590/-80/hasInterest,308/625/-85/hasInterest,336/650/-85/knows,363/670/90/hasInterest,420/478/-15/studyAt,460/582/70/studyAt,425/775/-70/knows}{\Hl{\xa,\ya}{\r}{\s}}
\end{scope}
\fill[gbar] (1978,1162) rectangle (3296,1192);
\begin{scope}[z6]
\draw[glabel,line width=.4pt,rounded corners=4pt] (40,20) rectangle (130,56);
\Tt[text=lightt]{85,38}{9}{返回}
\Tt[anchor=west,text=glabel,font=\latf]{150,37}{11}{ldbc\_demo001}
\Tt[text=glabel,font=\latf]{332,38}{10}{>}
\Tt[anchor=west,text=white,font=\latf]{352,37}{11}{Antv Graphin Demo}
\fill[gpan] (39,98) rectangle (610,665);
\fill[grw] (39,163) rectangle (610,218);
\fill[grw] (39,223) rectangle (610,277);
\fill[grw] (39,283) rectangle (610,338);
\draw[lightt,line width=.5pt] (78,125) circle[x radius=10,y radius=10] (85,133) -- (91,138);
\Tt[anchor=west,text=lightt]{115,129}{9.5}{点击搜索}
\Tt[anchor=west,text=lightt]{58,190}{9}{选中1个节点}
\foreach \xa/\ya in {70/240,60/250,80/250,64/260,76/260}{\fill[white] (\xa,\ya) circle[radius=.6pt];}
\Tt[anchor=west,text=lightt,font=\latf]{96,253}{8}{University}
\fill[gteal!35!gpan,rounded corners=3pt] (190,238) rectangle (335,268);
\Tt[text=gteal,font=\latf]{261,253}{8}{Organisation}
\Tt[anchor=west,text=glabel]{441,253}{8}{1个下游节点}
\draw[gteal,line width=.5pt] (567,240) rectangle (589,256) (572,262) -- (584,262);
\Tt[anchor=west,text=lightt]{58,310}{9.5}{属性}
\draw[lightt,line width=.5pt] (570,315) -- (578,306) -- (586,315);
\Tt[anchor=west,text=lightt,font=\latf]{39,377}{8}{.//dbpedia.org/resource/Vanderbilt\_University\_School\_of\_Engineering}
\Tt[anchor=west,text=lightt,font=\latf]{39,412}{8}{5}
\Tt[anchor=west,text=lightt,font=\latf]{39,449}{8}{derbilt\_University\_School\_of\_Engineering}
\Tt[anchor=west,text=lightt,font=\latf]{39,485}{8}{ersity}
\fill[grw!85!white,rounded corners=1pt] (213,648) rectangle (601,658);
\end{scope}
\begin{scope}[z7]
\Tt[text=glabel,font=\latf]{217,78}{9}{D.\_H.\_Lawrence}
\fill[gteal] (992,21) rectangle (1070,57);
\Tt[text=white]{1031,39}{9}{保存}
\foreach \xa/\xb/\s in {1089/1207/清空分析,1226/1362/导出为PNG,1382/1498/发布链接}{
 \draw[gbtn] (\xa,21) rectangle (\xb,57);
 \Tt[text=gteal]{{(\xa+\xb)/2},39}{9}{\s}}
\fill[grw,rounded corners=5pt] (1197,109) rectangle (1498,157);
\draw[lightt,line width=.4pt] (1222,123) rectangle (1242,143) (1263,123) rectangle (1283,143) (1263,130) -- (1283,130) (1270,130) -- (1270,143);
\draw[lightt,line width=.4pt] (1314,131) circle[x radius=9,y radius=9] (1321,140) -- (1325,144);
\draw[lightt,line width=.4pt] (1355,131) circle[x radius=9,y radius=9] (1362,140) -- (1366,144);
\draw[lightt,line width=.5pt] (1389,141) -- (1406,125);
\draw[glabel,line width=.4pt] (1429,125) -- (1429,141);
\draw[lightt,line width=.4pt] (1462,133) circle[x radius=10,y radius=10] (1462,133) circle[x radius=4,y radius=4];
\Tt[anchor=west,text=glabel,font=\latf]{1025,1384}{8}{Nodes}
\Tt[anchor=west,text=glabel,font=\latf]{1258,1384}{8}{Edges}
\foreach \xa/\ya in {1010/1372,1002/1384,1018/1386,1008/1392,1020/1376}{\fill[lightt] (\xa,\ya) circle[radius=.6pt];}
\draw[lightt,line width=.4pt] (1232,1382) -- (1254,1382) (1243,1371) -- (1243,1393) (1235,1373) -- (1251,1391) (1251,1373) -- (1235,1391);
\Tt[text=white,font=\bfseries]{1035,1438}{27}{74}
\Tt[text=white,font=\bfseries]{1268,1438}{27}{66}
\Tt[anchor=west,text=glabel,font=\latf]{1071,1451}{8}{/88789833}
\Tt[anchor=west,text=glabel,font=\latf]{1304,1451}{8}{/1093866122}
\draw[gbar,line width=.4pt] (965,1480) -- (1450,1480) (965,1515) -- (1450,1515);
\Tt[text=lightt]{1081,1499}{8.5}{查看数据分布}
\Tt[text=lightt]{1324,1499}{8.5}{当前点边信息}
\end{scope}
\end{tikzpicture}
\end{document}
